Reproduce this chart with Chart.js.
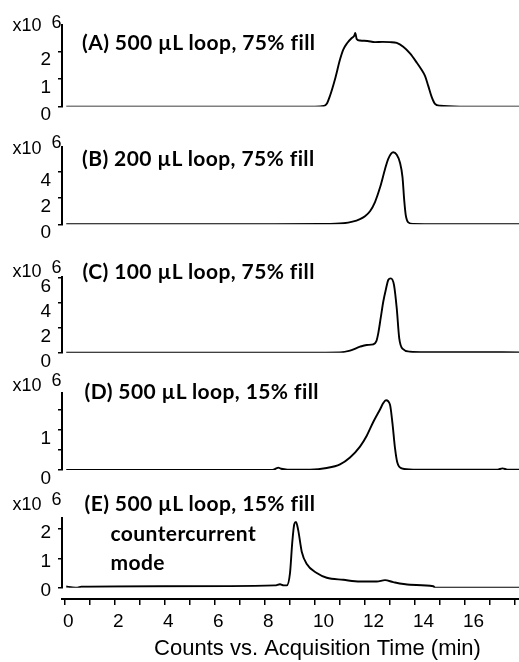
<!DOCTYPE html>
<html><head><meta charset="utf-8">
<script src="https://cdn.jsdelivr.net/npm/chart.js@4/dist/chart.umd.min.js"></script>
<style>
html,body{margin:0;padding:0;width:519px;height:662px;overflow:hidden;background:#fff;position:relative;}
canvas{position:absolute;left:0;}
.t{position:absolute;white-space:nowrap;color:#000;line-height:1;margin:0;}
.ttl{font-family:Lato,"Open Sans",sans-serif;font-weight:700;font-size:21px;letter-spacing:0.4px;}
.mult{font-family:"Liberation Sans",Arial,sans-serif;font-size:18px;}
</style></head><body>
<script>
// ---------- DATA (time in min, signal in x10^6 counts) ----------
const timeA   = [0.05, 4, 8, 10.0, 10.35, 10.47, 10.6, 10.8, 11.0, 11.13, 11.29, 11.47, 11.57, 11.61, 11.67, 11.8, 12.1, 12.4, 12.7, 13.0, 13.27, 13.53, 13.8, 14.07, 14.27, 14.4, 14.53, 14.67, 14.8, 15.0, 15.8, 18.16];
const signalA = [0.0, 0.0, 0.0, 0.0, 0.02, 0.1, 0.39, 0.99, 1.7, 2.06, 2.3, 2.48, 2.56, 2.66, 2.44, 2.39, 2.37, 2.33, 2.34, 2.33, 2.3, 2.16, 1.92, 1.59, 1.32, 1.11, 0.75, 0.34, 0.1, 0.03, 0.0, 0.0];

const timeB   = [0.05, 4, 8, 10.2, 11.13, 11.5, 11.8, 12.0, 12.2, 12.4, 12.6, 12.8, 12.93, 13.13, 13.27, 13.4, 13.5, 13.57, 13.63, 13.73, 13.93, 15.0, 18.16];
const signalB = [0.0, 0.0, 0.0, 0.02, 0.08, 0.2, 0.4, 0.62, 1.0, 1.7, 2.8, 4.2, 5.0, 5.5, 5.3, 4.7, 3.6, 1.8, 0.7, 0.15, 0.03, 0.01, 0.01];

const timeC   = [0.05, 4, 8, 11.0, 11.4, 11.8, 12.07, 12.33, 12.45, 12.53, 12.63, 12.73, 12.85, 12.93, 13.03, 13.16, 13.27, 13.37, 13.51, 13.8, 14.47, 18.16];
const signalC = [0.0, 0.0, 0.0, 0.03, 0.16, 0.48, 0.62, 0.67, 0.9, 1.55, 2.8, 4.08, 5.2, 5.82, 5.95, 5.42, 3.55, 1.15, 0.3, 0.08, 0.04, 0.03];

const timeD   = [0.05, 4, 8.3, 8.45, 8.53, 8.65, 8.9, 9.8, 10.47, 11.0, 11.4, 11.8, 12.07, 12.33, 12.6, 12.73, 12.84, 13.0, 13.1, 13.2, 13.29, 13.47, 13.93, 17.3, 17.5, 17.7, 18.16];
const signalD = [0.0, 0.0, 0.0, 0.04, 0.06, 0.03, 0.01, 0.01, 0.05, 0.14, 0.31, 0.58, 0.85, 1.19, 1.5, 1.66, 1.73, 1.62, 1.15, 0.54, 0.19, 0.04, 0.01, 0.01, 0.04, 0.01, 0.01];

const timeE   = [0.05, 0.3, 0.5, 0.65, 4, 8.4, 8.6, 8.75, 8.87, 9.0, 9.09, 9.17, 9.24, 9.33, 9.47, 9.67, 10.07, 10.47, 11.13, 11.8, 12.47, 12.8, 13.13, 13.8, 14.73, 14.8, 18.16];
const signalE = [0.04, 0.01, 0.0, 0.03, 0.05, 0.08, 0.12, 0.08, 0.08, 0.5, 1.54, 2.17, 2.25, 1.96, 1.23, 0.81, 0.5, 0.34, 0.27, 0.21, 0.21, 0.26, 0.19, 0.1, 0.05, 0.0, 0.0];

const yTicksA = [0, 1, 2];        const yLabelsA = [0, 1, 2];
const yTicksB = [0, 2, 4];        const yLabelsB = [0, 2, 4];
const yTicksC = [0, 2, 4, 6];     const yLabelsC = [0, 2, 4, 6];
const yTicksD = [0, 0.5, 1, 1.5]; const yLabelsD = [0, 1];
const yTicksE = [0, 1, 2];        const yLabelsE = [0, 1, 2];

const xTickValues = [0,1,2,3,4,5,6,7,8,9,10,11,12,13,14,15,16,17,18,19,20];
const xTickLabels = [0,2,4,6,8,10,12,14,16];

const panelTitles = ["(A) 500 µL loop, 75% fill", "(B) 200 µL loop, 75% fill", "(C) 100 µL loop, 75% fill", "(D) 500 µL loop, 15% fill", "(E) 500 µL loop, 15% fill"];
const extraLines = ["countercurrent", "mode"];
const multiplierText = "x10";
const multiplierExp = "6";
const xAxisTitle = "Counts vs. Acquisition Time (min)";

// ---------- LAYOUT ----------
const X_MIN = -0.12, X_MAX = 18.16;
const TICK_FONT = {family: '"Liberation Sans", Arial, sans-serif', size: 19};
const panels = [
  {t: timeA, v: signalA, ticks: yTicksA, labels: yLabelsA, max: 2.95, top: 0,   h: 125, pt: 25,   pb: 17.3, lo: 8.5},
  {t: timeB, v: signalB, ticks: yTicksB, labels: yLabelsB, max: 5.92, top: 125, h: 125, pt: 21.7, pb: 25.7, lo: 8.5},
  {t: timeC, v: signalC, ticks: yTicksC, labels: yLabelsC, max: 6.1,  top: 250, h: 130, pt: 26.5, pb: 27.3, lo: 9.5},
  {t: timeD, v: signalD, ticks: yTicksD, labels: yLabelsD, max: 1.9,  top: 375, h: 130, pt: 13,   pb: 35,   lo: 9},
  {t: timeE, v: signalE, ticks: yTicksE, labels: yLabelsE, max: 2.37, top: 500, h: 110, pt: 12,   pb: 22.3, lo: 3.5}
];

function addCanvas(w, h, top) {
  const c = document.createElement('canvas');
  c.width = w; c.height = h;
  c.style.width = w + 'px'; c.style.height = h + 'px'; c.style.top = top + 'px';
  document.body.appendChild(c);
  return c;
}

panels.forEach(p => {
  const c = addCanvas(519, p.h, p.top);
  new Chart(c, {
    type: 'line',
    data: {datasets: [{
      data: p.t.map((x, i) => ({x: x, y: p.v[i]})),
      borderColor: '#000', borderWidth: 1.9, pointRadius: 0,
      cubicInterpolationMode: 'monotone', fill: false
    }]},
    options: {
      responsive: false, animation: false, events: [],
      layout: {padding: {top: p.pt, bottom: p.pb, left: 0, right: 0}},
      plugins: {legend: {display: false}, tooltip: {enabled: false}},
      scales: {
        x: {type: 'linear', min: X_MIN, max: X_MAX, display: false},
        y: {
          type: 'linear', min: 0, max: p.max,
          afterFit(s) { s.width = 62; },
          afterBuildTicks(s) { s.ticks = p.ticks.map(v => ({value: v})); },
          border: {display: true, color: '#000', width: 2},
          grid: {drawOnChartArea: false, drawTicks: true, tickLength: 4, color: '#000', lineWidth: 1.5},
          ticks: {
            autoSkip: false, color: '#000', font: TICK_FONT, padding: 7, labelOffset: p.lo,
            callback: (v) => p.labels.includes(v) ? String(v) : ''
          }
        }
      }
    }
  });
});

// shared x axis
const XW = 573;
const cx = addCanvas(XW, 72, 590);
new Chart(cx, {
  type: 'line',
  data: {datasets: []},
  options: {
    responsive: false, animation: false, events: [],
    layout: {padding: {left: 62, top: 0, right: 0, bottom: 0}},
    plugins: {legend: {display: false}, tooltip: {enabled: false}},
    scales: {
      x: {
        type: 'linear', position: 'bottom', min: X_MIN, max: X_MIN + (XW - 62) / 25,
        afterFit(s) { s.height = 63; },
        afterBuildTicks(s) { s.ticks = xTickValues.map(v => ({value: v})); },
        border: {display: true, color: '#000', width: 2},
        grid: {drawOnChartArea: false, drawTicks: true, tickLength: 6, color: '#000', lineWidth: 1.5},
        ticks: {
          autoSkip: false, maxRotation: 0, minRotation: 0, align: 'start', labelOffset: -2, padding: 5,
          color: '#000', font: TICK_FONT,
          callback: (v) => xTickLabels.includes(v) ? String(v) : ''
        },
        title: {display: true, text: xAxisTitle, color: '#000',
                font: {family: '"Liberation Sans", Arial, sans-serif', size: 22}, padding: {top: 0, bottom: 0}}
      },
      y: {display: false, min: 0, max: 1}
    }
  }
});

// ---------- TEXT ----------
function addText(txt, cls, left, baseline, ascFactor, size) {
  const d = document.createElement('div');
  d.className = 't ' + cls;
  d.textContent = txt;
  d.style.left = left + 'px';
  d.style.top = (baseline - ascFactor * size) + 'px';
  document.body.appendChild(d);
}
const TS = 21;
const titlePos = [[82, 50], [82, 166], [82.5, 278.3], [84.5, 398.3], [84.5, 511]];
panelTitles.forEach((s, i) => addText(s, 'ttl', titlePos[i][0], titlePos[i][1], 0.887, TS));
addText(extraLines[0], 'ttl', 110.5, 540.7, 0.887, TS);
addText(extraLines[1], 'ttl', 110.5, 569.3, 0.887, TS);
const multBase = [31.7, 154, 277.7, 391.7, 510];
const expBase = [28.3, 148.3, 273.3, 386.7, 505];
multBase.forEach((b, i) => {
  addText(multiplierText, 'mult', 12.5, b, 0.8465, 18);
  addText(multiplierExp, 'mult', 51.5, expBase[i], 0.8465, 18);
});
</script>
</body></html>
